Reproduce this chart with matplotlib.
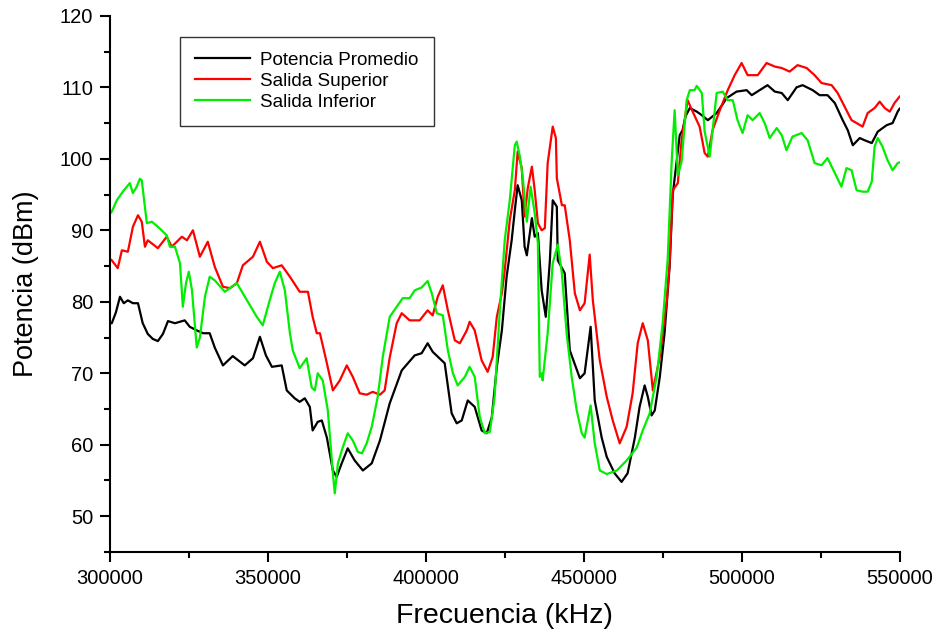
import matplotlib
matplotlib.use("Agg")
import matplotlib.pyplot as plt
from matplotlib.ticker import MultipleLocator

plt.rcParams['font.family'] = ['Liberation Sans', 'DejaVu Sans']

# Potencia Promedio (black)
x_prom = [300000, 300600, 301900, 303200, 304400, 305700, 307300, 308900, 310400, 312000,
          313600, 315200, 316800, 318400, 320600, 322200, 323700, 325300, 327500, 329500,
          331600, 333200, 335800, 338900, 342700, 345300, 347500, 349400, 351300, 354400,
          356000, 358500, 360100, 361700, 363300, 364200, 365800, 367100, 368700, 370600,
          371800, 373400, 375300, 377500, 380100, 382900, 385500, 388600, 392400, 396500,
          398700, 400600, 402200, 406000, 408200, 409800, 411400, 413300, 415500, 417700,
          419300, 420900, 422500, 424100, 425600, 427200, 428200, 429100, 430400, 431300,
          432000, 433600, 434500, 435500, 436700, 438000, 439300, 440200, 441500, 441800,
          444000, 445600, 448800, 450300, 452200, 453500, 455700, 457300, 459800, 462000,
          463900, 466200, 467700, 469300, 470300, 471500, 472500, 474100, 475600, 477200,
          478200, 479800, 480400, 481300, 482300, 483600, 485800, 487400, 489300, 492100,
          495300, 498400, 501600, 503200, 505700, 508200, 510500, 512700, 514600, 517400,
          519300, 522500, 524700, 527200, 529500, 532000, 533600, 535200, 537400, 538900,
          541200, 543100, 545900, 547800, 549400, 550000]
y_prom = [77.0, 77.0, 78.5, 80.7, 79.8, 80.2, 79.8, 79.8, 77.0, 75.5,
          74.8, 74.5, 75.5, 77.3, 77.0, 77.2, 77.4, 76.5, 76.0, 75.6,
          75.6, 73.6, 71.1, 72.4, 71.1, 72.1, 75.1, 72.5, 70.9, 71.1,
          67.6, 66.5, 66.0, 66.5, 65.3, 62.0, 63.2, 63.4, 61.0, 56.4,
          55.5, 57.4, 59.5, 57.8, 56.4, 57.4, 60.6, 65.8, 70.4, 72.5,
          72.8, 74.2, 73.0, 71.4, 64.4, 63.0, 63.4, 66.2, 65.3, 62.0,
          61.6, 63.8, 70.9, 76.0, 83.5, 88.6, 92.8, 96.3, 94.2, 87.7,
          86.5, 91.7, 89.1, 89.6, 81.6, 77.9, 85.8, 94.2, 93.3, 85.8,
          84.0, 73.2, 69.3, 70.0, 76.5, 66.2, 61.0, 58.3, 56.0, 54.8,
          56.0, 61.0, 65.3, 68.3, 66.7, 64.1, 64.8, 69.5, 75.6, 84.9,
          95.0, 101.0, 103.3, 104.0, 106.0, 107.1, 106.6, 106.1, 105.4, 106.4,
          108.5, 109.4, 109.6, 108.9, 109.6, 110.3, 109.4, 109.2, 108.2, 110.0,
          110.3, 109.6, 108.9, 108.9, 107.8, 105.4, 104.0, 101.9, 102.9, 102.6,
          102.2, 103.8, 104.7, 105.0, 106.6, 107.0]

# Salida Superior (red)
x_sup = [300000, 300600, 302500, 303800, 305700, 307300, 308900, 310100, 311100, 312000,
         315200, 318000, 319600, 322800, 324400, 326300, 328500, 331000, 333200, 335800,
         338000, 340200, 342100, 345300, 347500, 349700, 351600, 354400, 357000, 360100,
         362700, 364200, 365500, 366500, 368700, 370600, 372800, 375000, 376900, 379100,
         381300, 383200, 385500, 387000, 388600, 390800, 392400, 394900, 398100, 400600,
         402200, 403800, 405400, 407000, 409200, 410800, 413000, 413900, 415500, 417700,
         419600, 421200, 422500, 424100, 425000, 426600, 428200, 429100, 430400, 431300,
         432300, 433600, 434500, 435500, 436700, 437700, 438600, 440200, 441200, 441500,
         443100, 444000, 445600, 447200, 448800, 450300, 451900, 452900, 455100, 457300,
         459200, 461400, 463600, 465500, 467100, 468700, 470300, 471900, 474100, 476300,
         477200, 478200, 479800, 481000, 482900, 484500, 486700, 488300, 489300, 490800,
         493100, 495600, 497800, 500000, 501900, 505100, 507900, 510500, 512700, 515200,
         517700, 520600, 523100, 525300, 528500, 530400, 533200, 534800, 536400, 538300,
         539900, 542100, 543700, 545300, 546900, 548400, 550000]
y_sup = [86.0, 85.8, 84.7, 87.2, 87.0, 90.5, 92.1, 91.2, 87.7, 88.6,
         87.5, 89.1, 87.7, 89.1, 88.6, 90.0, 86.3, 88.4, 84.9, 82.1,
         81.9, 82.6, 85.1, 86.3, 88.4, 85.6, 84.7, 85.1, 83.5, 81.4,
         81.4, 77.9, 75.6, 75.6, 71.4, 67.6, 69.0, 71.1, 69.5, 67.2,
         67.0, 67.4, 67.0, 67.6, 72.2, 77.0, 78.4, 77.4, 77.4, 78.8,
         78.1, 80.7, 82.3, 78.8, 74.6, 74.2, 76.0, 77.2, 76.0, 71.8,
         70.2, 72.3, 77.9, 81.2, 84.4, 91.4, 95.6, 101.0, 98.7, 91.9,
         95.9, 98.9, 95.6, 91.0, 90.0, 90.3, 99.4, 104.5, 102.9, 97.3,
         93.5, 93.5, 88.6, 81.2, 78.8, 79.8, 86.6, 80.2, 71.8, 66.7,
         63.4, 60.2, 62.5, 67.2, 74.2, 77.0, 74.6, 67.6, 72.3, 80.2,
         85.4, 95.6, 96.6, 102.6, 108.2, 106.6, 104.5, 100.8, 100.3, 104.0,
         106.8, 109.6, 111.7, 113.4, 111.7, 111.7, 113.4, 112.9, 112.7, 112.2,
         113.1, 112.7, 111.7, 110.6, 110.3, 109.2, 106.8, 105.4, 105.0, 104.5,
         106.4, 107.1, 108.0, 107.1, 106.6, 107.8, 108.7]

# Salida Inferior (green)
x_inf = [300000, 300600, 302200, 304100, 306300, 307300, 308500, 309500, 310100, 311700,
         313300, 315200, 318000, 319000, 320600, 322200, 323100, 324100, 325000, 326000,
         327500, 328500, 330100, 331600, 333200, 336400, 340200, 343400, 346500, 348400,
         350600, 352200, 353800, 355400, 357000, 357900, 360100, 362300, 363900, 364900,
         365800, 367400, 369000, 370600, 371200, 372200, 373700, 375300, 376900, 378500,
         379800, 381300, 382900, 384800, 386400, 388600, 390800, 392700, 394900, 396500,
         398700, 400600, 401900, 403500, 405400, 407000, 408600, 410100, 412400, 413900,
         415500, 417100, 418700, 420300, 421800, 423400, 425000, 426600, 428200, 428800,
         429800, 430700, 432000, 433200, 434500, 435500, 436100, 436700, 437000, 438600,
         440200, 441800, 443100, 444600, 446200, 447800, 449400, 450300, 451300, 452200,
         453500, 455100, 457300, 460500, 463600, 466800, 468700, 470900, 473100, 475000,
         476600, 477900, 478800, 479800, 481000, 482600, 483600, 485100, 485800, 487400,
         488300, 489900, 492100, 494000, 495600, 497200, 498700, 500300, 501900, 503500,
         505700, 507300, 508900, 511100, 512700, 514200, 516100, 519000, 520900, 523100,
         525300, 527200, 529500, 531600, 533200, 534800, 536400, 538300, 539900, 541200,
         542100, 543100, 544600, 546200, 547800, 549400, 550000]
y_inf = [92.3, 92.6, 94.2, 95.4, 96.6, 95.2, 96.1, 97.2, 97.0, 91.0,
         91.2, 90.5, 89.3, 87.7, 87.7, 85.4, 79.3, 82.6, 84.2, 81.6,
         73.6, 75.0, 80.7, 83.5, 83.0, 81.4, 82.6, 80.2, 77.9, 76.7,
         80.2, 82.6, 84.2, 81.6, 75.6, 73.2, 70.7, 72.1, 68.0, 67.6,
         70.0, 69.0, 64.8, 56.0, 53.2, 57.4, 59.6, 61.6, 60.6, 59.0,
         58.8, 60.2, 62.5, 66.7, 72.3, 77.9, 79.3, 80.5, 80.5, 81.6,
         82.0, 82.9, 81.2, 78.4, 78.1, 73.2, 70.0, 68.3, 69.5, 70.9,
         69.5, 63.9, 61.6, 61.8, 66.7, 78.4, 88.6, 94.2, 101.9, 102.4,
         100.3, 97.5, 91.2, 96.1, 92.4, 88.2, 69.5, 70.0, 69.0, 75.6,
         85.4, 88.0, 84.0, 75.6, 69.5, 64.8, 61.6, 61.0, 63.4, 65.5,
         60.2, 56.4, 55.9, 56.4, 57.8, 59.6, 62.0, 64.4, 69.5, 77.0,
         86.0, 100.0, 106.8, 97.7, 99.6, 108.2, 109.6, 109.6, 110.2, 109.2,
         103.8, 100.3, 109.2, 109.4, 108.2, 108.2, 105.4, 103.6, 106.1, 105.4,
         106.4, 105.0, 102.9, 104.3, 103.3, 101.2, 103.1, 103.6, 102.6, 99.4,
         99.1, 100.1, 98.0, 96.1, 98.7, 98.4, 95.6, 95.4, 95.4, 96.8,
         101.7, 102.9, 101.7, 99.8, 98.4, 99.4, 99.5]

series_labels = ["Potencia Promedio", "Salida Superior", "Salida Inferior"]
x_label = "Frecuencia (kHz)"
y_label = "Potencia (dBm)"

fig = plt.figure(figsize=(9.39, 6.33), dpi=100)
ax = fig.add_axes([0.117, 0.128, 0.841, 0.847])

ax.plot(x_prom, y_prom, color="black", lw=1.6, label=series_labels[0])
ax.plot(x_sup, y_sup, color="#ff0000", lw=1.6, label=series_labels[1])
ax.plot(x_inf, y_inf, color="#00ee00", lw=1.6, label=series_labels[2])

ax.set_xlim(300000, 550000)
ax.set_ylim(45, 120)
ax.xaxis.set_major_locator(MultipleLocator(50000))
ax.xaxis.set_minor_locator(MultipleLocator(25000))
ax.yaxis.set_minor_locator(MultipleLocator(5))
ax.set_yticks(range(50, 121, 10))

for s in ["top", "right"]:
    ax.spines[s].set_visible(False)
for s in ["left", "bottom"]:
    ax.spines[s].set_linewidth(1.5)

ax.tick_params(which="major", direction="out", length=7.5, width=1.5, labelsize=14.5, pad=4.5)
ax.tick_params(which="minor", direction="out", length=4, width=1.5)

ax.set_xlabel(x_label, fontsize=20.5, labelpad=11)
ax.set_ylabel(y_label, fontsize=19.5, labelpad=15)

leg = ax.legend(loc="upper left", bbox_to_anchor=(0.0886, 0.961), fontsize=13.6,
                frameon=True, fancybox=False, edgecolor="black", handlelength=2.9,
                borderpad=0.8, labelspacing=0.2, handletextpad=0.55, borderaxespad=0)
leg.get_frame().set_linewidth(1.0)

fig.savefig("out.png", dpi=100)
